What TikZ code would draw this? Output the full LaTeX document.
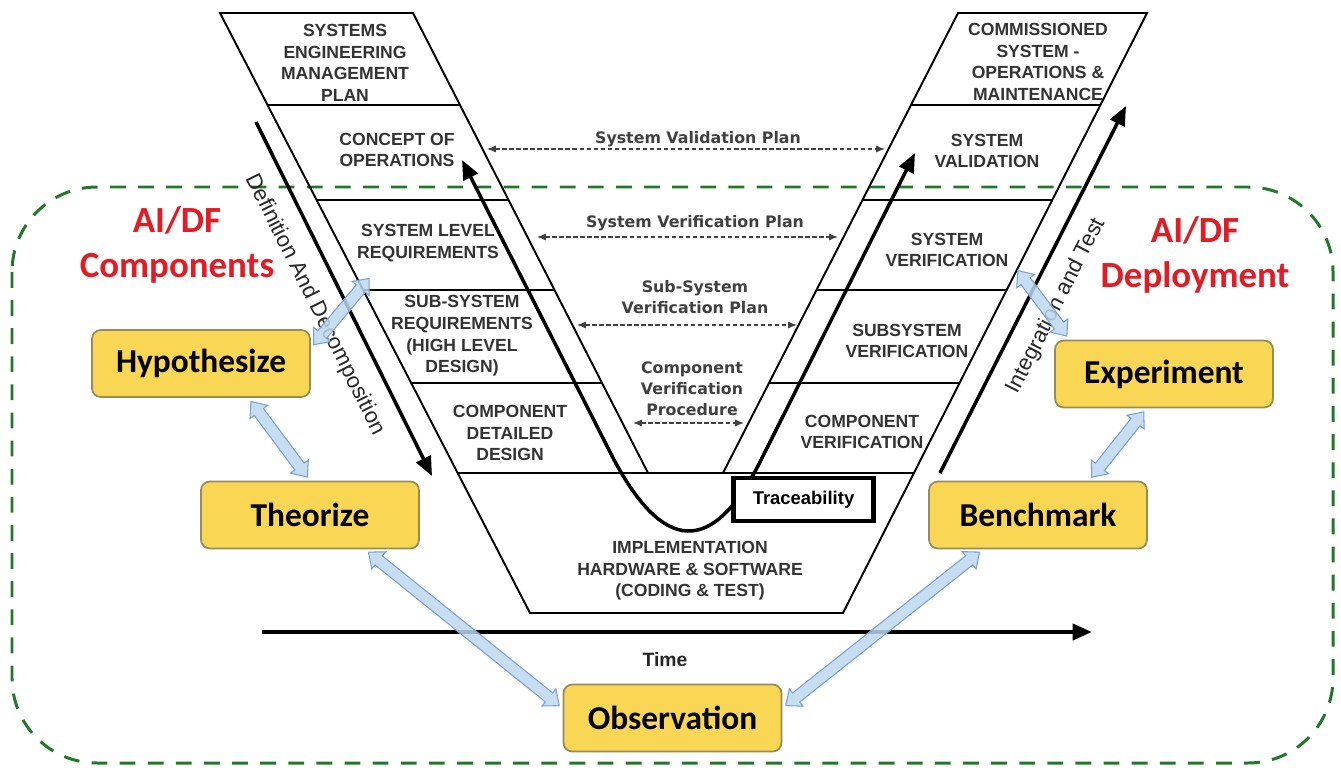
\documentclass[tikz,border=0pt]{standalone}
\usepackage{fontspec}
\setmainfont{Liberation Sans}
\newfontfamily\calib{Carlito}
\newfontfamily\dejavu{DejaVu Sans}
\usepackage{tikz}
\usetikzlibrary{arrows.meta,calc,shapes.arrows}
\definecolor{boxyellow}{RGB}{250,214,85}
\definecolor{boxedge}{RGB}{150,140,90}
\definecolor{linkfill}{RGB}{189,215,238}
\definecolor{linkedge}{RGB}{120,160,210}
\definecolor{aired}{RGB}{226,27,36}
\definecolor{frameg}{RGB}{34,120,40}
\tikzset{
  vtext/.style={font=\fontsize{10}{12.3}\selectfont\bfseries, text=black!80, align=center, inner sep=0pt},
  plantext/.style={font=\dejavu\bfseries\fontsize{9}{12}\selectfont, text=black!75, align=center, inner sep=0pt},
  ybox/.style={draw=boxedge, line width=1pt, rounded corners=5pt, fill=boxyellow, minimum width=4.36cm, minimum height=1.34cm, font=\calib\bfseries\fontsize{19}{22}\selectfont},
  redlabel/.style={text=aired, font=\calib\bfseries\fontsize{21}{25.6}\selectfont, align=center},
  varrow/.style={line width=2pt, -{Triangle[length=11pt,width=9pt]}},
  armtext/.style={font=\fontsize{12.5}{14}\selectfont, text=black!85},
  planarrow/.style={line width=0.7pt, black!75, dash pattern=on 2.5pt off 1.5pt, {Latex[length=5pt,width=4pt]}-{Latex[length=5pt,width=4pt]}},
  linkarrow/.style={double arrow, draw=linkedge, fill=linkfill, fill opacity=0.85, line width=0.6pt, inner sep=3pt, double arrow head extend=3pt, double arrow tip angle=80},
  rowline/.style={line width=1.5pt},
  vline/.style={line width=1.1pt, line join=miter}
}
\newcommand\bluelink[2]{%
  \path let \p1=($(#2)-(#1)$), \n1={veclen(\x1,\y1)-5pt}, \n2={atan2(\y1,\x1)} in
    node[linkarrow, minimum height=\n1, rotate=\n2] at ($(#1)!0.5!(#2)$) {};}

\begin{document}
\begin{tikzpicture}[x=0.02cm, y=-0.02cm]
\useasboundingbox (0,0) rectangle (1341,767);

% AI/DF frame
\draw[frameg, line width=1.7pt, dash pattern=on 9pt off 7pt, rounded corners=1.7cm] (12,187) rectangle (1333,763);

% the V
\draw[vline] (220,13) -- (530,613) -- (843,613) -- (1147,13) -- (958,13) -- (723,473) -- (648,473) -- (413,13) -- cycle;
\draw[rowline] (267.5,105) -- (460,105)  (316.6,200) -- (508.5,200)  (363.1,290) -- (554.5,290)  (411.2,383) -- (602,383)  (457.7,473) -- (913.9,473);
\draw[rowline] (911,105) -- (1100.4,105)  (862.5,200) -- (1052.2,200)  (816.5,290) -- (1006.6,290)  (769,383) -- (959.5,383);

% left arm
\node[vtext] (semp) at (345,63) {SYSTEMS\\ENGINEERING\\MANAGEMENT\\PLAN};
\node[vtext] (conops) at (397,150) {CONCEPT OF\\OPERATIONS};
\node[vtext] (sysreq) at (428,243) {SYSTEM LEVEL\\REQUIREMENTS};
\node[vtext] (subreq) at (462,336) {SUB-SYSTEM\\REQUIREMENTS\\(HIGH LEVEL\\DESIGN)};
\node[vtext] (compdes) at (510,433) {COMPONENT\\DETAILED\\DESIGN};
\node[vtext] (impl) at (690,571) {IMPLEMENTATION\\HARDWARE \& SOFTWARE\\(CODING \& TEST)};
% right arm
\node[vtext] (comm) at (1038,62) {COMMISSIONED\\SYSTEM -\\OPERATIONS \&\\MAINTENANCE};
\node[vtext] (sysval) at (987,151) {SYSTEM\\VALIDATION};
\node[vtext] (sysver) at (947,250) {SYSTEM\\VERIFICATION};
\node[vtext] (subver) at (907,341) {SUBSYSTEM\\VERIFICATION};
\node[vtext] (compver) at (862,432) {COMPONENT\\VERIFICATION};

% plans across the V
\coordinate (valL) at (487,149); \coordinate (valR) at (885,149);
\coordinate (verL) at (537,237); \coordinate (verR) at (838,237);
\coordinate (ssvL) at (577,325); \coordinate (ssvR) at (797,325);
\coordinate (cvpL) at (633,423); \coordinate (cvpR) at (744,423);
\draw[planarrow] (valL) -- (valR);
\draw[planarrow] (verL) -- (verR);
\draw[planarrow] (ssvL) -- (ssvR);
\draw[planarrow] (cvpL) -- (cvpR);
\node[plantext] (valtxt) at (698,139) {System Validation Plan};
\node[plantext] (vertxt) at (695,223) {System Verification Plan};
\node[plantext] (ssvtxt) at (695,297) {Sub-System\\Verification Plan};
\node[plantext] (cvptxt) at (692,389) {Component\\Verification\\Procedure};

% traceability curve
\coordinate (trcL) at (462,160);
\coordinate (trcR) at (915,153);
\draw[line width=2pt, {Triangle[length=11pt,width=9pt]}-{Triangle[length=11pt,width=9pt]}]
  (trcL) -- (610,452) .. controls (662.7,556) and (713,556) .. (761,460) -- (trcR);
\node[draw, line width=2.5pt, fill=white, minimum width=2.8cm, minimum height=0.85cm, font=\bfseries\fontsize{10.5}{12}\selectfont] (trace) at (803.5,499.5) {Traceability};

% side arrows and time
\coordinate (defA) at (256,122); \coordinate (defB) at (432,476);
\coordinate (intA) at (940,473); \coordinate (intB) at (1126,106);
\draw[varrow] (defA) -- node[sloped, below=6pt, pos=0.48, armtext] {Definition And Decomposition} (defB);
\draw[varrow] (intA) -- node[sloped, below=6pt, pos=0.49, armtext] {Integration and Test} (intB);
\coordinate (tA) at (262,632); \coordinate (tB) at (1092,632);
\draw[varrow, line width=2.5pt] (tA) -- (tB);
\node[font=\bfseries\fontsize{11}{13}\selectfont, text=black!85] (timelbl) at (665,660) {Time};

% AI/DF boxes
\node[redlabel] (aicomp) at (177,245) {AI/DF\\Components};
\node[redlabel] (aidep) at (1195,255) {AI/DF\\Deployment};
\node[ybox] (hyp) at (201,363.5) {Hypothesize};
\node[ybox] (theo) at (310,515) {Theorize};
\node[ybox] (exp) at (1164,374) {Experiment};
\node[ybox] (bench) at (1038,515) {Benchmark};
\node[ybox] (obs) at (672.5,718) {Observation};

% links
\coordinate (slrpt) at (372,275);
\coordinate (sysverpt) at (1015,267);
\bluelink{hyp.8}{slrpt}
\bluelink{hyp.-36}{theo.north}
\bluelink{theo.-32}{obs.175}
\bluelink{obs.5}{bench.-148}
\bluelink{bench.34}{exp.-117}
\bluelink{exp.160}{sysverpt}
\end{tikzpicture}
\end{document}
